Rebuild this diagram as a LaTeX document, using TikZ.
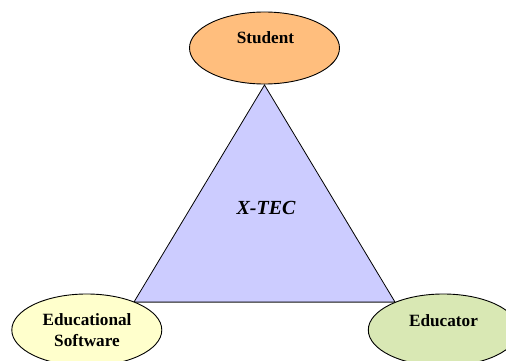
\documentclass[tikz,border=0pt]{standalone}
\usepackage{fontspec}
\setmainfont{Liberation Serif}
\usetikzlibrary{shapes.geometric}
\definecolor{tri}{RGB}{204,204,255}
\definecolor{stu}{RGB}{255,190,125}
\definecolor{edu}{RGB}{255,255,204}
\definecolor{tea}{RGB}{217,232,180}
\tikzset{
  x=1pt,y=-1pt,
  party/.style={ellipse,draw=black,line width=0.9pt,minimum width=150pt,minimum height=72pt,inner sep=0pt},
  partytext/.style={font=\fontsize{17.2}{21}\selectfont\bfseries,align=center,inner sep=0pt,text=black},
  triangleshape/.style={draw=black,line width=0.8pt,fill=tri,line join=miter},
}
\begin{document}
\begin{tikzpicture}
\useasboundingbox (0,0) rectangle (506,361);
\clip (0,0) rectangle (506,361);
\coordinate (apex) at (264.5,85);
\coordinate (bl) at (134,302);
\coordinate (br) at (395,302);
\draw[triangleshape] (apex) -- (bl) -- (br) -- cycle;
\draw[black!60,line width=1pt] (bl) -- (br);
\node[party,fill=stu] (student) at (264.5,48) {};
\node[party,fill=edu] (software) at (86.8,330) {};
\node[party,fill=tea] (educator) at (443.3,330) {};
\node[partytext] (studentlabel) at (265.5,37.5) {Student};
\node[partytext] (softwarelabel) at (87,330) {Educational\\Software};
\node[partytext] (educatorlabel) at (443.5,320.5) {Educator};
\node[inner sep=0pt,font=\fontsize{20}{24}\selectfont\bfseries\itshape] (xtec) at (266,208) {X-TEC};
\end{tikzpicture}
\end{document}
